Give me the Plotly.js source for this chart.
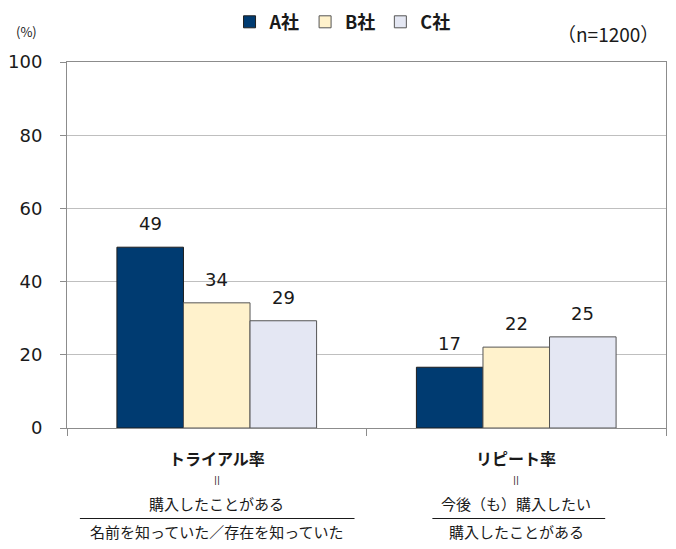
<!DOCTYPE html>
<html>
<head>
<meta charset="utf-8">
<script src="https://cdn.plot.ly/plotly-3.0.1.min.js"></script>
<style>html,body{margin:0;padding:0;background:#fff;}#chart{width:676px;height:549px;}</style>
</head>
<body>
<div id="chart"></div>
<script>
// ---- data ----
const categories = ['トライアル率', 'リピート率'];
const seriesNames = ['A社', 'B社', 'C社'];
const valuesA = [49.4, 16.6];
const valuesB = [34.2, 22.1];
const valuesC = [29.3, 24.9];
const labelLine2 = ['||', '||'];
const numerators = ['購入したことがある', '今後（も）購入したい'];
const denominators = ['名前を知っていた／存在を知っていた', '購入したことがある'];
const yTickVals = [0, 20, 40, 60, 80, 100];
const yTickText = ['0', '20', '40', '60', '80', '100'];
const unitLabel = '(%)';
const sampleLabel = '（n=1200）';

// ---- styles ----
const colors = ['#003B71', '#FFF2CC', '#E4E7F3'];
const outline = ['#1f1f1f', '#555555', '#555555'];
const jp = 'Noto Sans CJK JP, sans-serif';
const num = 'DejaVu Sans, sans-serif';
const bargap = 1/3;
const barW = (1 - bargap) / 3;

const allValues = [valuesA, valuesB, valuesC];
const traces = allValues.map((vals, s) => ({
  type: 'bar',
  name: seriesNames[s],
  x: categories,
  y: vals,
  marker: {color: colors[s], line: {color: outline[s], width: 1}},
  hoverinfo: 'skip'
}));

const annotations = [];
// data labels
allValues.forEach((vals, s) => {
  vals.forEach((v, i) => {
    annotations.push({
      x: i + (s - 1) * barW, y: v, xref: 'x', yref: 'y',
      text: String(Math.round(v)), showarrow: false,
      yanchor: 'bottom', yshift: 11,
      font: {family: num, size: 18, color: '#1a1a1a'}
    });
  });
});
// category labels
categories.forEach((c, i) => {
  const lines = [
    {t: '<b>' + c + '</b>', dy: -29.5, size: 16, f: jp},
    {t: labelLine2[i], dy: -52, size: 9, f: num},
    {t: numerators[i], dy: -75, size: 15, f: jp},
    {t: denominators[i], dy: -103, size: 15, f: jp}
  ];
  lines.forEach(l => {
    annotations.push({
      x: i, y: 0, xref: 'x', yref: 'paper', text: l.t, showarrow: false,
      yanchor: 'middle', yshift: l.dy,
      font: {family: l.f, size: l.size, color: '#1a1a1a'}
    });
  });
});
annotations.push({
  x: -0.067, y: 1.082, xref: 'paper', yref: 'paper', text: unitLabel, showarrow: false,
  xanchor: 'center', yanchor: 'middle', font: {family: jp, size: 13, color: '#1a1a1a'}
});
annotations.push({
  x: 0.992, y: 1.079, xref: 'paper', yref: 'paper', text: sampleLabel, showarrow: false,
  xanchor: 'right', yanchor: 'middle', font: {family: jp, size: 19, color: '#1a1a1a'}
});

// fraction bars under numerators
const fracY = -(518.5 - 428) / 366;
const fracSpans = [[-0.457, 0.46], [0.72, 1.297]];
const shapes = fracSpans.map(sp => ({
  type: 'line', xref: 'x', yref: 'paper', x0: sp[0], x1: sp[1], y0: fracY, y1: fracY,
  line: {color: '#1a1a1a', width: 1}
}));

const layout = {
  width: 676, height: 549,
  margin: {l: 67, r: 10, t: 62, b: 121, autoexpand: false},
  paper_bgcolor: '#ffffff', plot_bgcolor: '#ffffff',
  barmode: 'group', bargap: bargap, bargroupgap: 0,
  showlegend: true,
  legend: {
    orientation: 'h', x: 0.46, xanchor: 'center', y: 1.109, yanchor: 'middle',
    font: {family: jp, size: 18, color: '#1a1a1a', weight: 'bold'},
    itemwidth: 30, traceorder: 'normal'
  },
  xaxis: {
    type: 'category', showticklabels: false, showgrid: false,
    showline: true, mirror: true, linecolor: '#8C8C8C', linewidth: 1,
    ticks: 'outside', tickson: 'boundaries', ticklen: 7, tickcolor: '#8C8C8C',
    fixedrange: true
  },
  yaxis: {
    range: [0, 100], tickvals: yTickVals, ticktext: yTickText,
    showgrid: true, gridcolor: '#BFBFBF', gridwidth: 1, zeroline: false,
    showline: true, mirror: true, linecolor: '#8C8C8C', linewidth: 1,
    ticks: 'outside', ticklen: 6, tickcolor: '#8C8C8C',
    ticklabelstandoff: 14,
    tickfont: {family: num, size: 18, color: '#1a1a1a'},
    fixedrange: true
  },
  annotations: annotations,
  shapes: shapes
};

Plotly.newPlot('chart', traces, layout, {staticPlot: true, displayModeBar: false});
</script>
</body>
</html>
